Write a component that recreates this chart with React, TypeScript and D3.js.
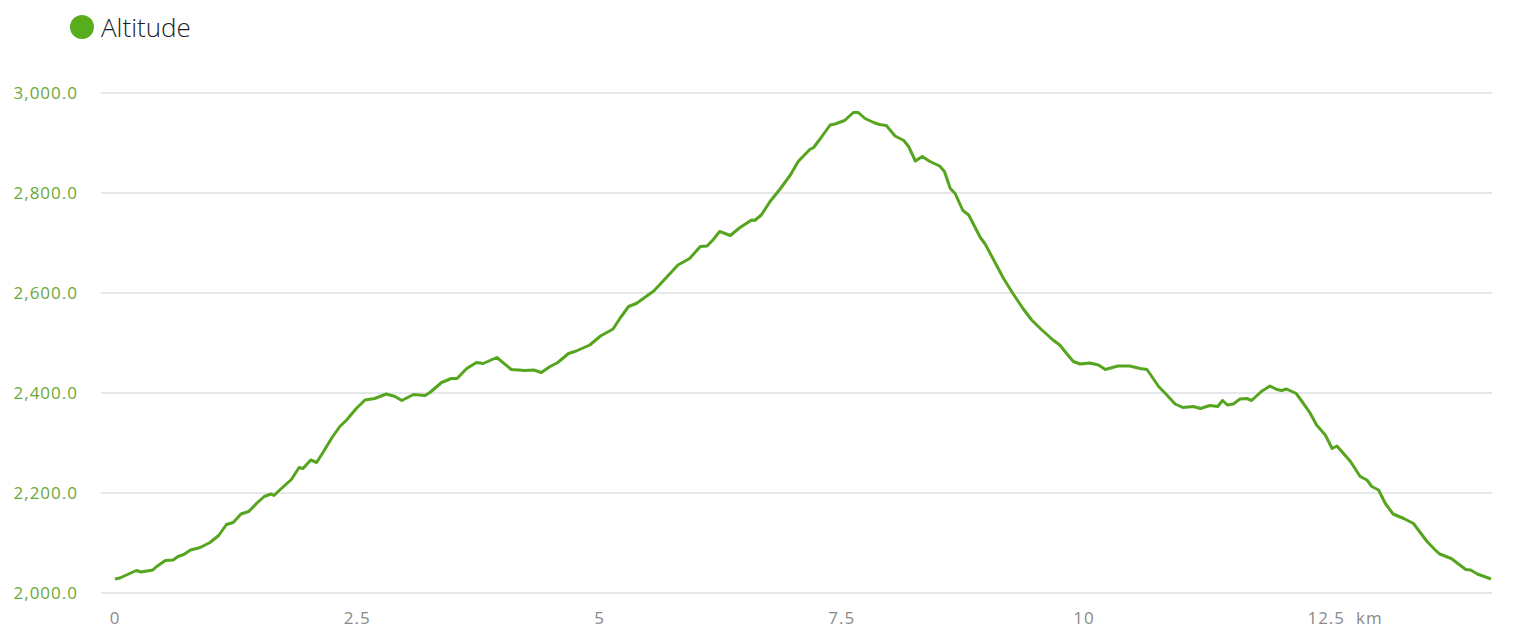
import React from "react";
import * as d3 from "d3";

const distanceKm = [
  0, 0.05, 0.22, 0.27, 0.39, 0.43, 0.52, 0.6, 0.65, 0.71, 0.78, 0.88, 0.98, 1.07, 1.15, 1.22, 1.3, 1.38, 1.46, 1.54,
  1.61, 1.64, 1.7, 1.82, 1.9, 1.94, 2.02, 2.08, 2.13, 2.24, 2.32, 2.39, 2.49, 2.58, 2.68, 2.8, 2.89, 2.96, 3.08, 3.2,
  3.25, 3.37, 3.47, 3.53, 3.63, 3.73, 3.8, 3.94, 4.09, 4.23, 4.32, 4.4, 4.49, 4.57, 4.68, 4.76, 4.9, 5.01, 5.14, 5.21,
  5.3, 5.38, 5.56, 5.69, 5.81, 5.93, 6.04, 6.11, 6.17, 6.24, 6.35, 6.45, 6.57, 6.6, 6.67, 6.76, 6.86, 6.97, 7.05, 7.17,
  7.21, 7.28, 7.38, 7.43, 7.53, 7.62, 7.67, 7.74, 7.83, 7.89, 7.96, 8.05, 8.14, 8.19, 8.26, 8.33, 8.41, 8.51, 8.56, 8.62,
  8.67, 8.75, 8.81, 8.93, 8.98, 9.06, 9.17, 9.27, 9.37, 9.46, 9.56, 9.68, 9.75, 9.82, 9.89, 9.96, 10.06, 10.15, 10.22, 10.35,
  10.47, 10.58, 10.65, 10.7, 10.77, 10.85, 10.94, 11.02, 11.13, 11.2, 11.3, 11.38, 11.43, 11.48, 11.54, 11.61, 11.68, 11.73, 11.83, 11.92,
  11.99, 12.04, 12.09, 12.19, 12.25, 12.33, 12.4, 12.49, 12.56, 12.61, 12.66, 12.75, 12.85, 12.92, 12.97, 13.04, 13.11, 13.19, 13.3, 13.4,
  13.54, 13.62, 13.67, 13.79, 13.94, 13.99, 14.06, 14.2,
];

const altitudeM = [
  2028, 2030, 2045, 2042, 2046, 2053, 2065, 2066, 2073, 2077, 2086, 2091, 2101, 2115, 2137, 2141, 2158, 2163, 2179, 2193,
  2198, 2195, 2206, 2227, 2251, 2249, 2266, 2261, 2276, 2311, 2333, 2346, 2369, 2386, 2389, 2398, 2393, 2385, 2397, 2395,
  2401, 2421, 2429, 2429, 2449, 2461, 2459, 2471, 2447, 2445, 2446, 2441, 2453, 2461, 2479, 2484, 2496, 2514, 2528, 2549,
  2573, 2579, 2604, 2631, 2656, 2669, 2693, 2694, 2706, 2723, 2715, 2731, 2746, 2745, 2756, 2783, 2807, 2836, 2863, 2887,
  2891, 2909, 2936, 2938, 2945, 2961, 2961, 2949, 2941, 2937, 2935, 2914, 2905, 2893, 2864, 2873, 2863, 2854, 2843, 2809,
  2799, 2765, 2756, 2711, 2698, 2669, 2629, 2598, 2569, 2546, 2527, 2506, 2496, 2479, 2463, 2458, 2460, 2456, 2447, 2454,
  2454, 2449, 2447, 2433, 2413, 2397, 2378, 2371, 2373, 2369, 2375, 2373, 2385, 2376, 2378, 2388, 2389, 2385, 2403, 2414,
  2407, 2405, 2408, 2399, 2383, 2361, 2336, 2316, 2289, 2294, 2283, 2263, 2233, 2226, 2213, 2206, 2179, 2158, 2149, 2139,
  2103, 2087, 2078, 2069, 2047, 2046, 2038, 2028,
];

const yTicks = [2000, 2200, 2400, 2600, 2800, 3000];
const xTicks = [0, 2.5, 5, 7.5, 10, 12.5];
const seriesName = "Altitude";
const unitLabel = "km";

const W = 1529;
const H = 639;

export default function App() {
  const x = d3.scaleLinear().domain([0, 14.2]).range([115, 115 + 14.2 * 96.9]);
  const y = d3.scaleLinear().domain([2000, 3000]).range([593, 93]);
  const pts = distanceKm.map((d, i) => [d, altitudeM[i]] as [number, number]);
  const line = d3
    .line<[number, number]>()
    .x((d) => x(d[0]))
    .y((d) => y(d[1]))
    .curve(d3.curveLinear);
  const fmtY = d3.format(",.1f");
  const green = "#56a51f";
  return (
    <svg
      width={W}
      height={H}
      style={{ position: "absolute", left: 0, top: 0, background: "#fff" }}
      fontFamily="'Open Sans', sans-serif"
    >
      <circle cx={82} cy={27} r={12} fill="#57ad1c" />
      <text x={101} y={37} fontSize={26} fill="#1e1e2a" fontWeight={300}>
        {seriesName}
      </text>
      {yTicks.map((t) => (
        <g key={t}>
          <line x1={101} x2={1492} y1={y(t)} y2={y(t)} stroke="#dcdfe3" strokeWidth={1.5} />
          <text x={78} y={y(t) + 6} fontSize={17} fill="#6aa836" textAnchor="end" letterSpacing={1}>
            {fmtY(t)}
          </text>
        </g>
      ))}
      {xTicks.map((t) => (
        <text key={t} x={x(t)} y={624} fontSize={17} fill="#8a8a8a" textAnchor="middle" letterSpacing={1}>
          {String(t)}
        </text>
      ))}
      <text x={1356} y={624} fontSize={17} fill="#8a8a8a" letterSpacing={1}>
        {unitLabel}
      </text>
      <path d={line(pts) || ""} fill="none" stroke={green} strokeWidth={3} strokeLinejoin="round" />
    </svg>
  );
}
